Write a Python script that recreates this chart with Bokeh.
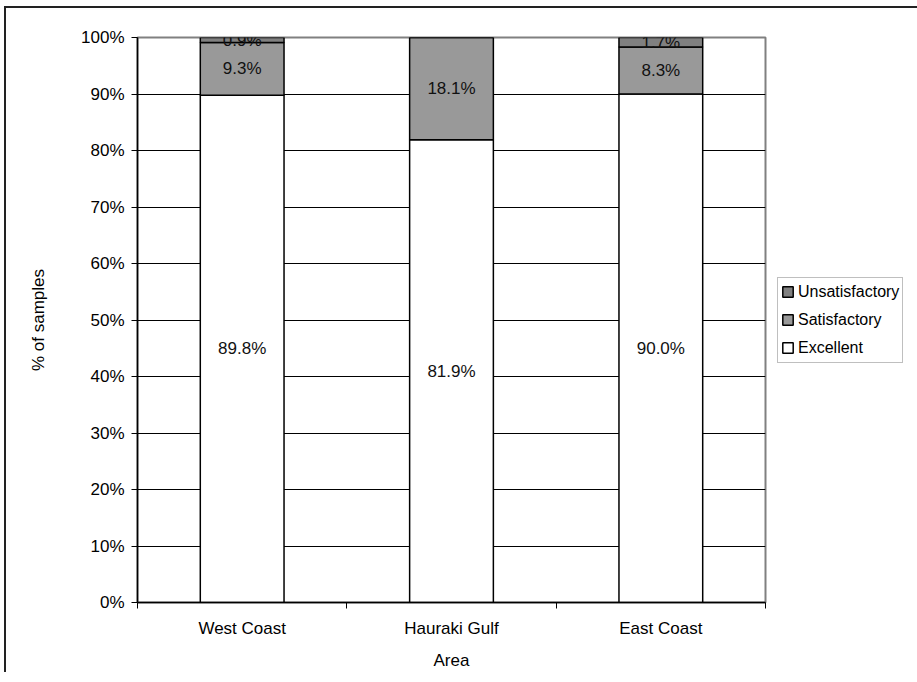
from bokeh.plotting import figure
from bokeh.models import (ColumnDataSource, Range1d, FixedTicker, Legend, LegendItem,
                          LabelSet)
from bokeh.core.properties import value
from bokeh.embed import file_html
from bokeh.resources import INLINE

# ---- data ----
areas = ["West Coast", "Hauraki Gulf", "East Coast"]
excellent = [89.8, 81.9, 90.0]
satisfactory = [9.3, 18.1, 8.3]
unsatisfactory = [0.9, 0.0, 1.7]
y_ticks = [0, 10, 20, 30, 40, 50, 60, 70, 80, 90, 100]

FONT = "Liberation Sans"
FS = "17px"

xpos = [i + 0.5 for i in range(len(areas))]
src = ColumnDataSource(dict(x=xpos, area=areas, Excellent=excellent,
                            Satisfactory=satisfactory, Unsatisfactory=unsatisfactory))

p = figure(frame_width=628, frame_height=565, output_backend="svg", toolbar_location=None,
           x_range=Range1d(0, len(areas)), y_range=Range1d(0, 100),
           min_border_left=131, min_border_right=0, min_border_top=29,
           min_border_bottom=60,
           styles={"margin-left": "4px", "margin-top": "6px",
                   "border-left": "2px solid #222", "border-top": "2px solid #222"})

p.outline_line_color = "#808080"
p.outline_line_width = 2

renderers = p.vbar_stack(["Excellent", "Satisfactory", "Unsatisfactory"], x="x",
                         width=0.4, source=src,
                         fill_color=["#ffffff", "#999999", "#808080"],
                         line_color="black", line_width=1.5)

# segment labels
lab_x, lab_y, lab_t = [], [], []
for i in range(len(areas)):
    base = 0.0
    for vals in (excellent, satisfactory, unsatisfactory):
        v = vals[i]
        if v > 0:
            lab_x.append(xpos[i])
            lab_y.append(base + v / 2)
            lab_t.append(f"{v:.1f}%")
        base += v
lsrc = ColumnDataSource(dict(x=lab_x, y=lab_y, t=lab_t))
p.add_layout(LabelSet(x="x", y="y", text="t", source=lsrc, text_align="center",
                      text_baseline="middle", text_font=value(FONT),
                      text_font_size=value(FS), text_color="#111111"))

# axes
xa = p.xaxis[0]
xa.ticker = FixedTicker(ticks=xpos, minor_ticks=list(range(len(areas) + 1)))
xa.major_label_overrides = {x: a for x, a in zip(xpos, areas)}
xa.major_tick_in = 0
xa.major_tick_out = 0
xa.minor_tick_in = 0
xa.minor_tick_out = 6
xa.minor_tick_line_color = "black"
xa.axis_line_color = "black"
xa.axis_line_width = 1.5
xa.major_label_standoff = 10
xa.axis_label = "Area"
xa.axis_label_standoff = 10

ya = p.yaxis[0]
ya.ticker = FixedTicker(ticks=y_ticks, minor_ticks=[])
ya.major_label_overrides = {t: f"{t}%" for t in y_ticks}
ya.major_tick_in = 0
ya.major_tick_out = 6
ya.major_tick_line_color = "black"
ya.axis_line_color = "black"
ya.axis_line_width = 1.5
ya.major_label_standoff = 7
ya.axis_label = "% of samples"
ya.axis_label_standoff = 30

for ax in (xa, ya):
    ax.major_label_text_font = FONT
    ax.major_label_text_font_size = FS
    ax.major_label_text_color = "black"
    ax.axis_label_text_font = FONT
    ax.axis_label_text_font_size = FS
    ax.axis_label_text_font_style = "normal"
    ax.axis_label_text_color = "black"

p.xgrid.visible = False
p.ygrid.ticker = FixedTicker(ticks=y_ticks[:-1])
p.ygrid.grid_line_color = "black"
p.ygrid.grid_line_width = 1

items = [LegendItem(label=n, renderers=[r]) for n, r in
         zip(["Unsatisfactory", "Satisfactory", "Excellent"], renderers[::-1])]
leg = Legend(items=items, location="center_left", padding=3, spacing=6, margin=12,
             label_height=22, glyph_height=13, glyph_width=13, label_standoff=4,
             label_text_font=FONT, label_text_font_size="16px",
             label_text_color="black",
             border_line_color="#808080", border_line_width=1.5,
             background_fill_alpha=1)
p.add_layout(leg, "right")

open("out.html", "w").write(file_html(p, INLINE))
